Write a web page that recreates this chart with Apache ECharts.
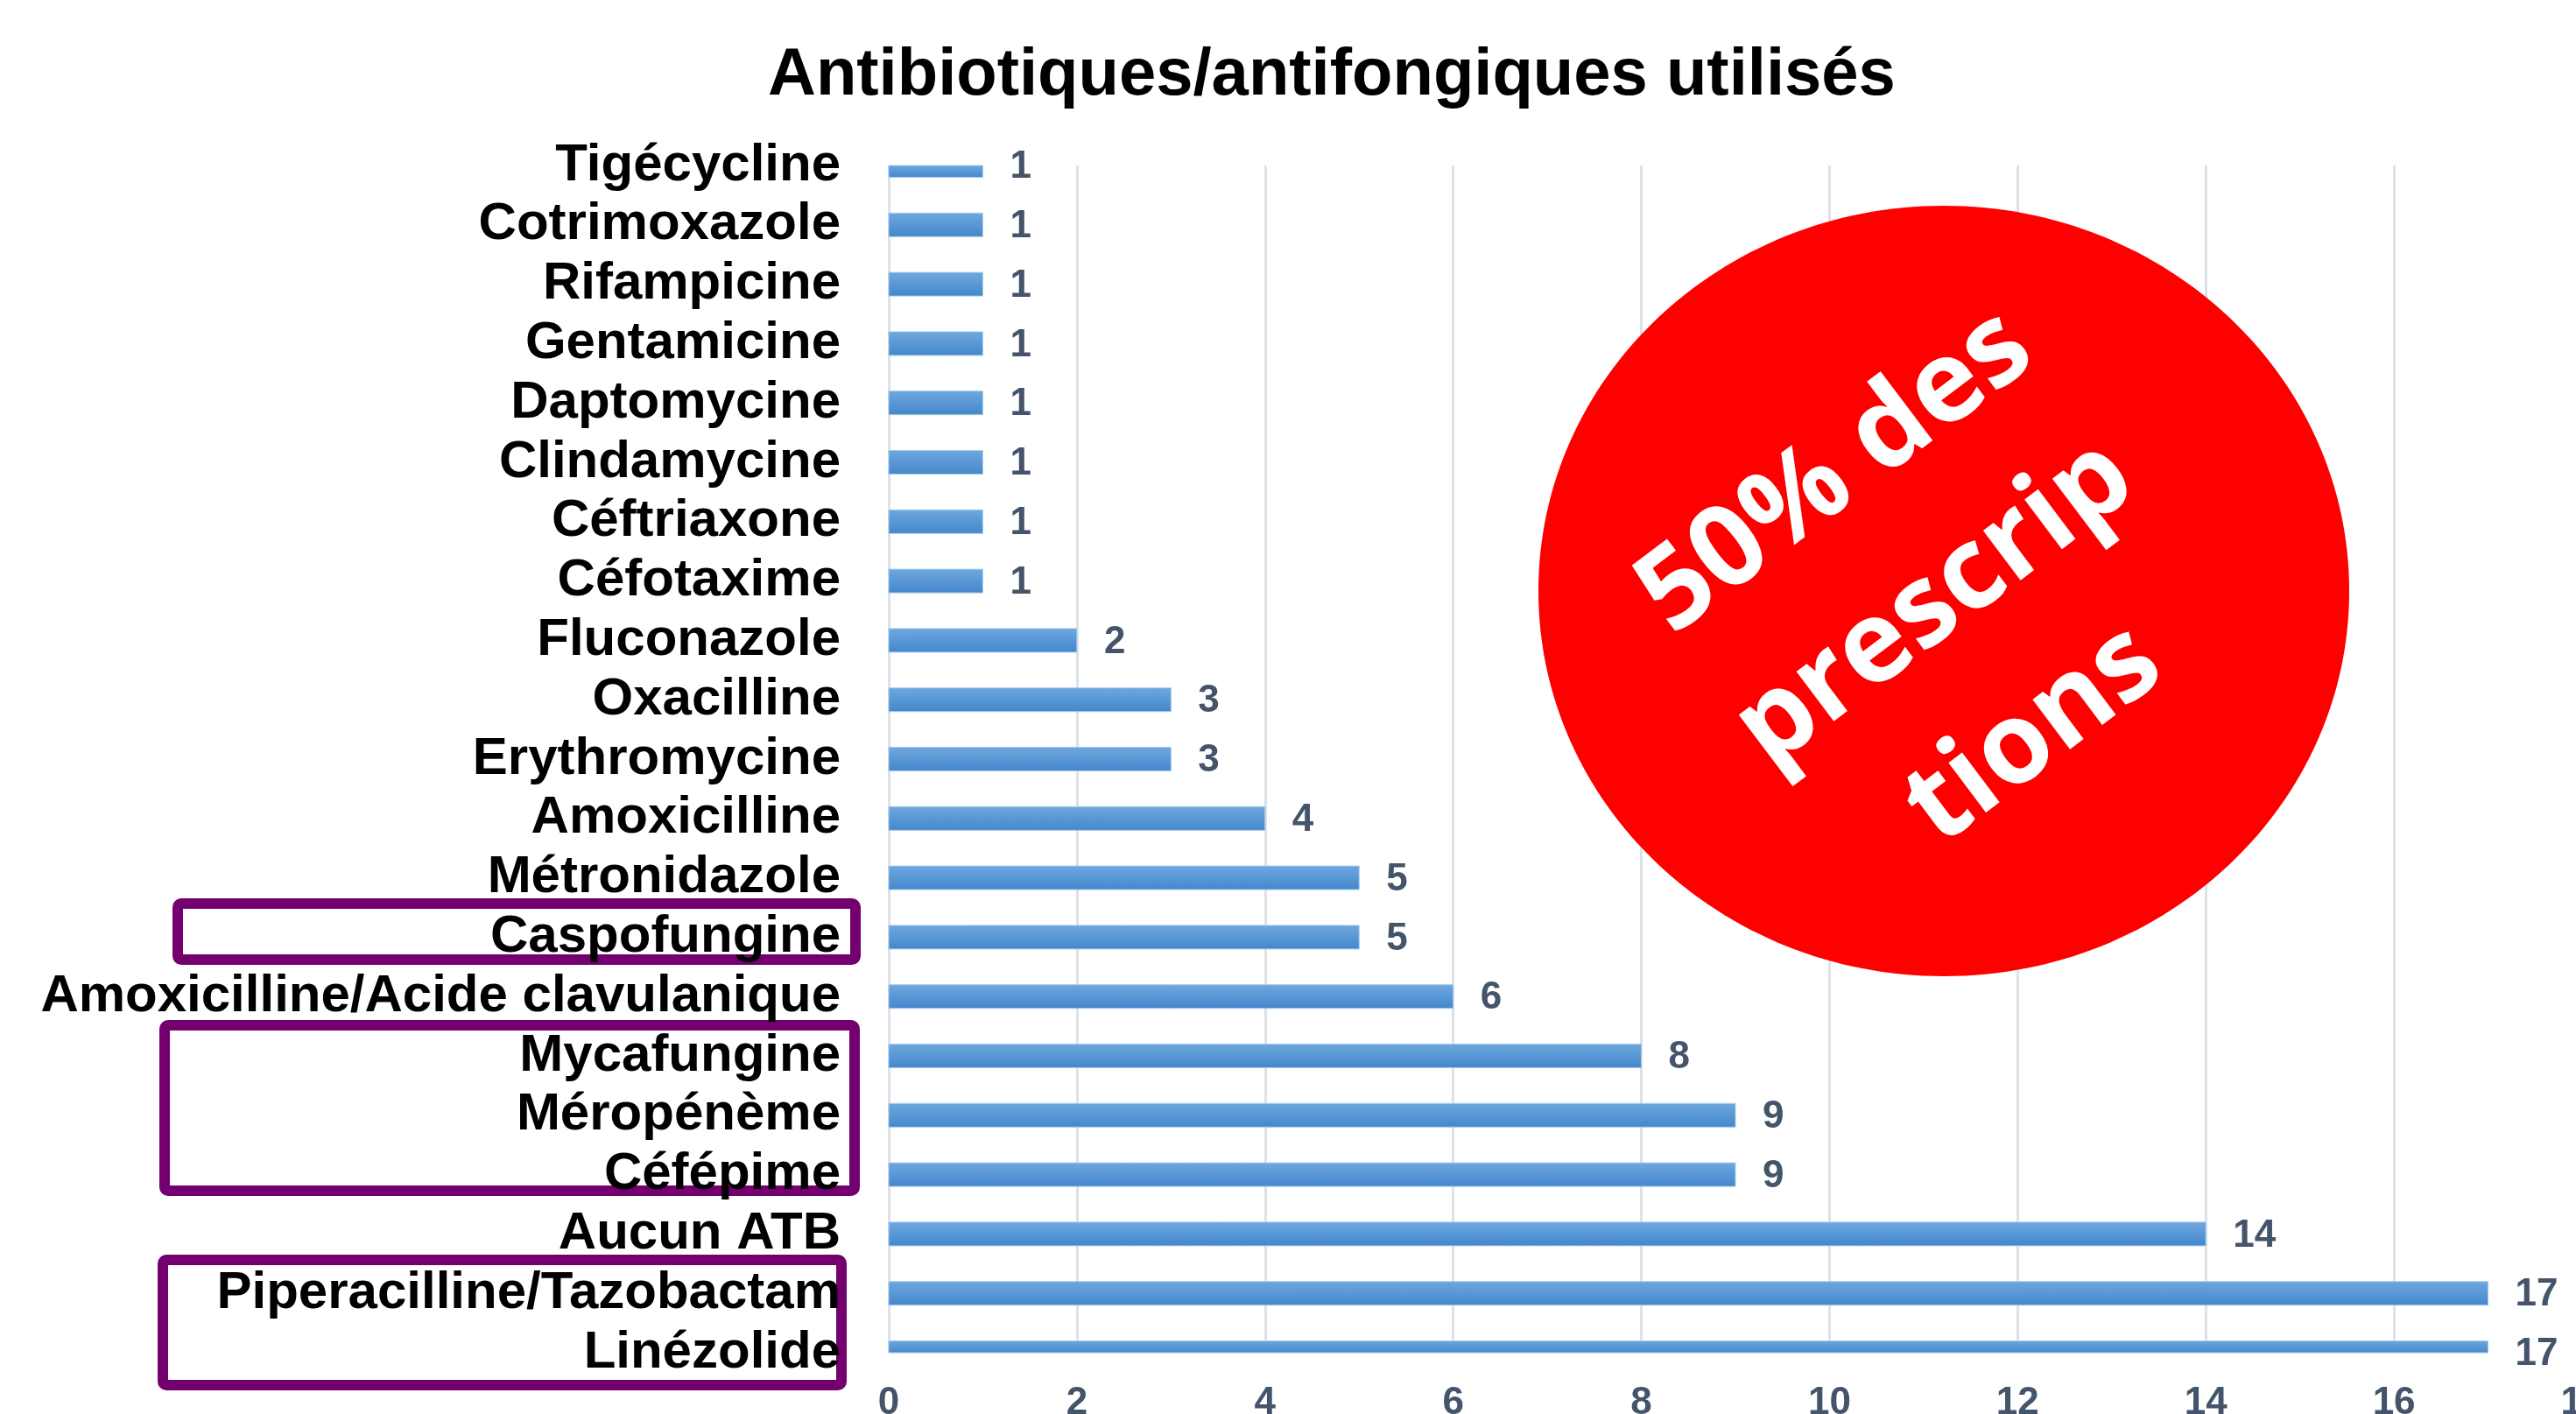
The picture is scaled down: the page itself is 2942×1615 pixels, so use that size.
<!DOCTYPE html>
<html>
<head>
<meta charset="utf-8">
<title>Antibiotiques/antifongiques utilisés</title>
<script src="https://cdn.jsdelivr.net/npm/echarts@6/dist/echarts.min.js"></script>
<style>
    html, body {
        margin: 0;
        padding: 0;
        background: #fff;
    }
    #myChart {
        width: 2942px;
        height: 1615px;
    }
</style>
</head>
<body>
<div id="myChart"></div>
<script>
    // données
    var categories = [
        'Tigécycline', 'Cotrimoxazole', 'Rifampicine', 'Gentamicine', 'Daptomycine',
        'Clindamycine', 'Céftriaxone', 'Céfotaxime', 'Fluconazole', 'Oxacilline',
        'Erythromycine', 'Amoxicilline', 'Métronidazole', 'Caspofungine',
        'Amoxicilline/Acide clavulanique', 'Mycafungine', 'Méropénème', 'Céfépime',
        'Aucun ATB', 'Piperacilline/Tazobactam', 'Linézolide'
    ];
    var values = [1, 1, 1, 1, 1, 1, 1, 1, 2, 3, 3, 4, 5, 5, 6, 8, 9, 9, 14, 17, 17];
    var xTicks = [0, 2, 4, 6, 8, 10, 12, 14, 16, 18];
    var noteText = '50% des\nprescrip\ntions';

    var purple = '#74006F';
    var gridColor = '#DCE1EA';
    var numColor = '#44546A';
    var barFill = new echarts.graphic.LinearGradient(0, 0, 0, 1, [{
        offset: 0,
        color: '#6FA8DF'
    }, {
        offset: 1,
        color: '#4387CB'
    }]);

    // barres dessinées à la main pour pouvoir les couper au bord du repère
    function renderBar(params, api) {
        var idx = api.value(1);
        var start = api.coord([0, idx]);
        var end = api.coord([api.value(0), idx]);
        var h = 27;
        var cs = params.coordSys;
        var rect = echarts.graphic.clipRectByRect({
            x: start[0],
            y: start[1] - h / 2,
            width: end[0] - start[0],
            height: h
        }, {
            x: cs.x,
            y: cs.y,
            width: cs.width,
            height: cs.height
        });
        return {
            type: 'group',
            children: [{
                type: 'rect',
                shape: rect,
                style: {
                    fill: barFill,
                    stroke: '#A9CBEC',
                    lineWidth: 1
                }
            }, {
                type: 'text',
                x: end[0] + 31,
                y: end[1] + 2,
                style: {
                    text: String(api.value(0)),
                    fontFamily: 'Liberation Sans',
                    fontSize: 44,
                    fontWeight: 'bold',
                    fill: numColor,
                    align: 'left',
                    verticalAlign: 'middle'
                }
            }]
        };
    }

    var option = {
        backgroundColor: '#fff',
        animation: false,
        title: {
            text: 'Antibiotiques/antifongiques utilisés',
            left: 872,
            top: 44,
            textStyle: {
                fontFamily: 'Liberation Sans',
                fontSize: 76,
                fontWeight: 'bold',
                color: '#000'
            }
        },
        grid: {
            left: 1015,
            top: 189,
            width: 1934,
            height: 1356,
            containLabel: false,
            outerBoundsMode: 'none'
        },
        xAxis: {
            type: 'value',
            min: xTicks[0],
            max: xTicks[xTicks.length - 1],
            interval: xTicks[1] - xTicks[0],
            axisLine: { show: false },
            axisTick: { show: false },
            splitLine: {
                lineStyle: { color: gridColor, width: 3 }
            },
            axisLabel: {
                margin: 36,
                fontFamily: 'Liberation Sans',
                fontSize: 44,
                fontWeight: 'bold',
                color: numColor
            }
        },
        yAxis: {
            type: 'category',
            data: categories,
            inverse: true,
            boundaryGap: false,
            axisLine: { show: false },
            axisTick: { show: false },
            splitLine: { show: false },
            axisLabel: {
                interval: 0,
                margin: 55,
                fontFamily: 'Liberation Sans',
                fontSize: 60,
                fontWeight: 'bold',
                color: '#000'
            }
        },
        series: [{
            type: 'custom',
            renderItem: renderBar,
            encode: { x: 0, y: 1 },
            data: values.map(function (v, i) {
                return [v, i];
            })
        }],
        graphic: [
            // cadres violets
            {
                type: 'rect',
                shape: { x: 203, y: 1032, width: 774, height: 64, r: 4 },
                style: { fill: 'none', stroke: purple, lineWidth: 12 }
            },
            {
                type: 'rect',
                shape: { x: 188, y: 1171, width: 788, height: 189, r: 4 },
                style: { fill: 'none', stroke: purple, lineWidth: 12 }
            },
            {
                type: 'rect',
                shape: { x: 186, y: 1439, width: 775, height: 143, r: 4 },
                style: { fill: 'none', stroke: purple, lineWidth: 12 }
            },
            // pastille rouge
            {
                type: 'ellipse',
                shape: { cx: 2220, cy: 675, rx: 463, ry: 440 },
                style: { fill: '#FF0000' },
                z: 10
            },
            {
                type: 'text',
                x: 2210,
                y: 690,
                rotation: 37 * Math.PI / 180,
                z: 11,
                style: {
                    text: noteText,
                    fill: '#fff',
                    fontFamily: 'Open Sans',
                    fontSize: 130,
                    fontWeight: 'bold',
                    lineHeight: 188,
                    align: 'center',
                    verticalAlign: 'middle'
                }
            }
        ]
    };

    // initialiser echarts
    var myChart = echarts.init(document.getElementById('myChart'));
    myChart.setOption(option);
</script>
</body>
</html>
